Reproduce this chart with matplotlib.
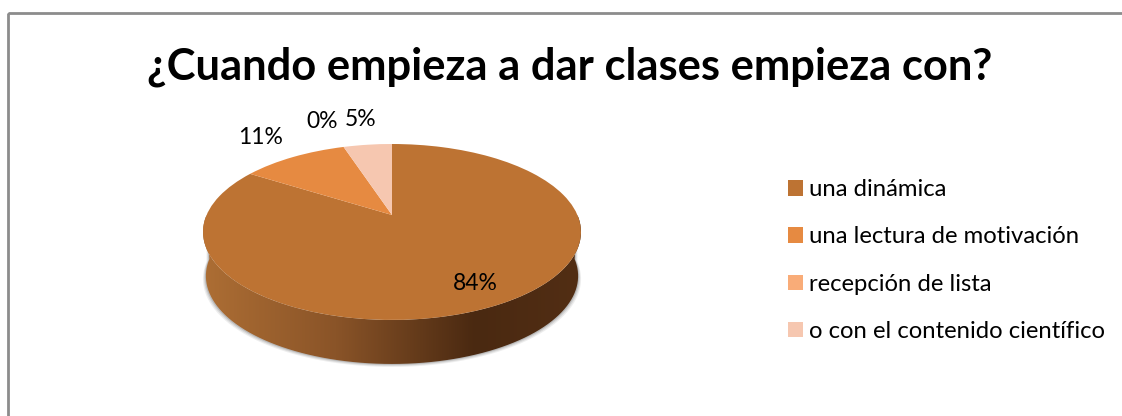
import numpy as np
import matplotlib
matplotlib.use("Agg")
import matplotlib.pyplot as plt
from matplotlib.colors import LinearSegmentedColormap
from matplotlib.patches import Polygon, Rectangle
from matplotlib.transforms import Transform

plt.rcParams["font.family"] = ["Lato", "DejaVu Sans"]

title = "¿Cuando empieza a dar clases empieza con?"
categories = ["una dinámica", "una lectura de motivación", "recepción de lista",
              "o con el contenido científico"]
values = [84, 11, 0, 5]
colors = ["#BD7333", "#E68A41", "#F9AC78", "#F6C7B0"]

W, H = 1122, 416
CX, CY = 392, 215
K, A, B = 0.193, 185.4, 84.7
DEPTH = 44


class Tilt(Transform):
    """Unit circle to the tilted pie top, in pixels (front looks bigger)"""
    input_dims = 2
    output_dims = 2
    is_affine = False

    def transform_non_affine(self, values):
        pts = np.asarray(values, dtype=float)
        w = 1 + K * pts[:, 1]
        return np.column_stack([CX + A * pts[:, 0] / w, CY - B * pts[:, 1] / w])


fig = plt.figure(figsize=(W / 100, H / 100), dpi=100)
ax = fig.add_axes([0, 0, 1, 1])

wedges, _ = ax.pie(values, colors=colors, startangle=90, counterclock=False)
tilt = Tilt()
for wedge in wedges:
    wedge.set_transform(tilt + ax.transData)
    wedge.set_zorder(5)
    wedge.set_antialiased(True)

# side wall, front half of the rim pushed down
t = np.radians(np.arange(180, 361, 2))
rim = tilt.transform_non_affine(np.column_stack([np.cos(t), np.sin(t)]))
low = rim.copy()
low[:, 0] = CX + (rim[:, 0] - CX) * 0.985
low[:, 1] += DEPTH
wall = Polygon(np.vstack([rim, low[::-1]]), closed=True, transform=ax.transData,
               fc="none", ec="none")
ax.add_patch(wall)

for grow, alpha in [(3.0, 0.10), (2.0, 0.14), (1.0, 0.22)]:
    halo = low.copy()
    halo[:, 0] = CX + (low[:, 0] - CX) * (1 + grow / 190)
    halo[:, 1] += grow
    ax.add_patch(Polygon(np.vstack([rim, halo[::-1]]), closed=True, fc="#555555",
                         ec="none", alpha=alpha, zorder=2))

cmap = LinearSegmentedColormap.from_list(
    "wall", [(0, "#AD6E34"), (0.35, "#8A5428"), (0.72, "#4A2911"), (1, "#522E14")])
img = ax.imshow(np.linspace(0, 1, 256)[None, :], cmap=cmap, aspect="auto",
                extent=(203, 581, 366, 215), zorder=3)
img.set_clip_path(wall)

ax.add_patch(Rectangle((8.5, 13), W, H, fc="none", ec="#8C8C8C", lw=2, zorder=1))

ax.text(570, 67, title, ha="center", va="center", fontsize=31.3, fontweight="bold",
        color="black")

label_pos = [(475, 283), (261, 138), (322, 122), (361, 119)]
for v, (x, y) in zip(values, label_pos):
    ax.text(x, y, f"{v}%", ha="center", va="center", fontsize=16.5, color="black", zorder=6)

leg = ax.legend(wedges, categories, loc="upper left", bbox_to_anchor=(781 / W, 1 - 172 / H),
                frameon=False, fontsize=17.2, labelspacing=1.1, handlelength=0.63,
                handleheight=0.63, handletextpad=0.25, borderpad=0.3, borderaxespad=0)
for txt in leg.get_texts():
    txt.set_color("black")

ax.set_aspect("auto")
ax.set_xlim(0, W)
ax.set_ylim(H, 0)
ax.axis("off")

fig.savefig("out.png", dpi=100, facecolor="white")
